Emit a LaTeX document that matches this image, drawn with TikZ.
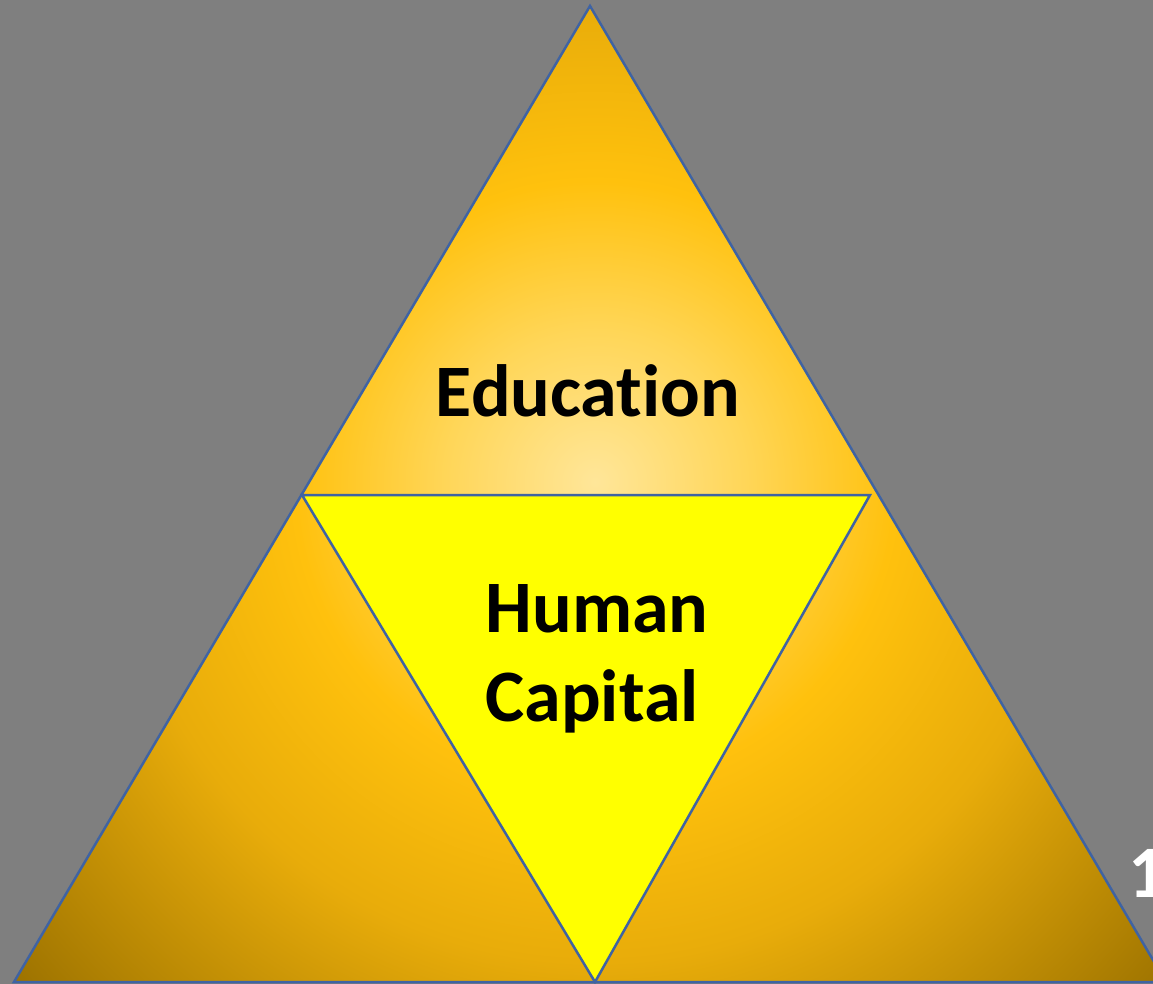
\documentclass[tikz,border=0pt]{standalone}
\usepackage{fontspec}
\setmainfont{Carlito}[Ligatures=CommonOff]
\definecolor{backdrop}{HTML}{7F7F7F}
\definecolor{edgeblue}{HTML}{3F63A3}
\definecolor{coreyellow}{HTML}{FFFF00}
\definecolor{glowA}{HTML}{FFE699}
\definecolor{glowB}{HTML}{FFD658}
\definecolor{glowC}{HTML}{FFC10D}
\definecolor{glowD}{HTML}{E8AC0A}
\definecolor{glowE}{HTML}{9C7200}
% radial gold gradient: 25bp equals the radius of the shaded circle
\pgfdeclareradialshading{goldglow}{\pgfpoint{0bp}{0bp}}{%
  color(0bp)=(glowA); color(4.7bp)=(glowB); color(9.4bp)=(glowC);
  color(15bp)=(glowD); color(24bp)=(glowE); color(50bp)=(glowE)}
\begin{document}
\begin{tikzpicture}[x=1pt,y=-1pt,
    outline/.style={draw=edgeblue,line width=2.5pt,line join=miter},
    label/.style={font=\fontsize{74}{89}\selectfont\bfseries,text=black,align=center,inner sep=0pt}]
  \useasboundingbox (0,0) rectangle (1153,984);
  \clip (0,0) rectangle (1153,984);
  \fill[backdrop] (0,0) rectangle (1153,984);

  % outer triangle with radial gold fill
  \coordinate (apex) at (590,6);
  \coordinate (bl) at (14,982);
  \coordinate (br) at (1166,982);
  \begin{scope}
    \clip (apex) -- (bl) -- (br) -- cycle;
    \shade[shading=goldglow] (595,482) circle[radius=800pt];
  \end{scope}
  \draw[outline] (apex) -- (bl) -- (br) -- cycle;

  % inner inverted triangle
  \coordinate (il) at (302,495);
  \coordinate (ir) at (870,495);
  \coordinate (ib) at (595,982);
  \filldraw[outline,fill=coreyellow] (il) -- (ir) -- (ib) -- cycle;

  % labels
  \node[label,anchor=base] (edu) at (588,416) {Education};
  \node[label,anchor=base] (hum) at (597,632) {Human};
  \node[label,anchor=base] (cap) at (592,721) {Capital};
  \node[label,text=white,anchor=base west] (num) at (1128,897) {1};
\end{tikzpicture}
\end{document}
